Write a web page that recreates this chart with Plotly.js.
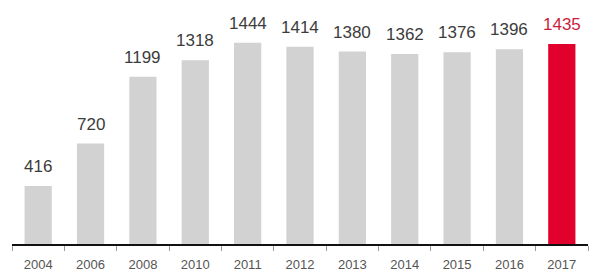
<!DOCTYPE html>
<html><head><meta charset="utf-8">
<script src="https://cdn.plot.ly/plotly-3.0.1.min.js"></script>
<style>html,body{margin:0;padding:0;background:#fff}#c{width:589px;height:273px}</style>
</head><body><div id="c"></div>
<script>
const years = ["2004","2006","2008","2010","2011","2012","2013","2014","2015","2016","2017"];
const values = [416, 720, 1199, 1318, 1444, 1414, 1380, 1362, 1376, 1396, 1435];
const barColors = ["#d2d2d2","#d2d2d2","#d2d2d2","#d2d2d2","#d2d2d2","#d2d2d2","#d2d2d2","#d2d2d2","#d2d2d2","#d2d2d2","#e2012d"];
const labelColors = ["#3c3c3c","#3c3c3c","#3c3c3c","#3c3c3c","#3c3c3c","#3c3c3c","#3c3c3c","#3c3c3c","#3c3c3c","#3c3c3c","#c81e3c"];

const annotations = years.map((y, i) => ({
  x: i, y: values[i], xref: "x", yref: "y",
  text: String(values[i]), showarrow: false,
  yanchor: "bottom", yshift: 8,
  font: {family: "Liberation Sans, Arial, sans-serif", size: 17, color: labelColors[i]}
}));

Plotly.newPlot("c", [{
  type: "bar", x: years, y: values,
  marker: {color: barColors},
  hoverinfo: "none"
}], {
  width: 589, height: 273,
  margin: {l: 12, r: 1, t: 0, b: 29},
  paper_bgcolor: "#fff", plot_bgcolor: "#fff",
  bargap: 0.48,
  showlegend: false,
  xaxis: {
    type: "category", range: [-0.5, 10.5],
    showline: true, linecolor: "#111", linewidth: 2,
    ticks: "outside", tickson: "boundaries", ticklen: 5, tickcolor: "#999", tickwidth: 1,
    ticklabelstandoff: 7,
    tickfont: {family: "Liberation Sans, Arial, sans-serif", size: 13, color: "#555"},
    showgrid: false, zeroline: false, fixedrange: true
  },
  yaxis: {
    range: [0, 1750], visible: false, showgrid: false, zeroline: false, fixedrange: true
  },
  annotations: annotations
}, {staticPlot: true});
</script></body></html>
